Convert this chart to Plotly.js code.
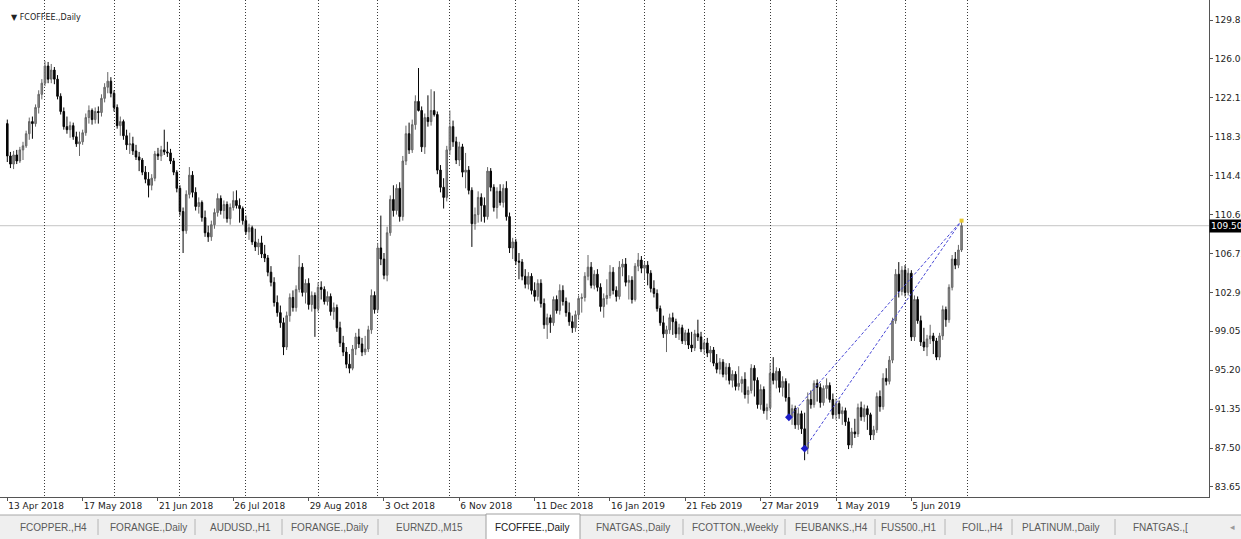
<!DOCTYPE html>
<html><head><meta charset="utf-8">
<script src="https://cdn.plot.ly/plotly-3.0.1.min.js"></script>
<style>html,body{margin:0;padding:0;background:#fff;overflow:hidden}#chart{width:1241px;height:539px}</style>
</head><body><div id="chart"></div>
<script>
// ---------------- data ----------------
const chartTitle = '\u25BC FCOFFEE.,Daily';
const tickLabels = ['13 Apr 2018','17 May 2018','21 Jun 2018','26 Jul 2018','29 Aug 2018','3 Oct 2018','6 Nov 2018','11 Dec 2018','16 Jan 2019','21 Feb 2019','27 Mar 2019','1 May 2019','5 Jun 2019'];
const labelBars = [0,24,48,72,96,120,144,168,192,216,240,264,288];
const separatorBars = [12,34,55,76,99,118,141,162,182,203,222,243,264,286,306];
const priceTicks = [83.65,87.50,91.35,95.20,99.05,102.90,106.75,110.60,114.45,118.30,122.15,126.00,129.85];

const openP = [
119.6,116.4,115.6,116.5,115.9,117.0,117.4,118.6,119.8,119.6,
121.2,122.5,123.6,125.3,124.0,124.9,124.0,122.3,120.8,119.3,
119.0,119.4,118.3,117.6,117.8,118.7,120.2,120.9,120.0,120.8,
120.7,122.1,123.2,123.8,122.6,121.2,119.4,119.8,118.4,117.5,
117.6,116.9,116.3,116.0,114.8,114.1,113.5,114.2,116.6,116.4,
117.0,116.8,116.7,115.9,114.8,113.2,110.9,109.0,112.6,114.5,
112.8,111.4,111.8,110.3,108.8,108.4,109.6,110.8,112.2,111.0,
111.6,110.2,111.3,112.0,111.5,111.2,110.0,108.9,109.3,107.9,
107.4,107.8,106.7,106.3,104.9,103.9,101.9,100.9,99.9,97.5,
100.6,102.4,101.4,103.2,105.4,102.9,103.8,101.7,102.6,101.3,
103.4,103.2,102.0,102.5,101.0,101.4,99.4,97.9,97.0,95.8,
95.4,97.3,98.5,97.8,97.0,97.3,99.2,102.6,101.2,107.3,
106.2,104.6,108.8,112.1,111.0,113.2,110.4,115.9,118.6,117.0,
119.5,121.8,120.9,117.3,120.2,119.8,120.9,120.5,115.0,113.3,
112.3,117.0,119.3,117.8,116.0,117.3,114.8,115.0,113.0,109.7,
110.6,112.3,111.5,110.4,114.9,113.3,111.3,112.9,111.8,113.2,
110.4,107.3,107.9,106.0,105.9,104.5,103.7,104.5,103.1,102.5,
103.8,101.8,99.7,100.4,99.9,102.2,101.1,103.1,102.0,100.9,
100.0,99.4,100.7,102.3,102.4,104.5,105.4,103.6,104.7,103.4,
101.5,102.3,102.6,104.9,103.1,102.5,105.4,105.7,103.9,104.1,
102.2,105.5,106.1,105.3,105.6,104.8,103.3,102.8,101.3,99.9,
98.8,99.2,100.4,100.0,98.8,99.4,98.1,98.9,97.7,97.4,
98.8,98.5,97.3,97.9,96.9,97.2,95.9,95.3,96.0,94.8,
95.5,94.2,94.8,93.6,93.9,94.3,92.8,93.2,95.4,94.2,
91.8,93.3,91.2,91.5,94.9,94.2,95.1,93.5,94.1,92.5,
90.6,91.4,89.8,90.9,89.4,87.5,92.3,91.8,93.9,93.5,
92.0,93.4,93.7,92.3,90.8,91.9,90.9,91.2,90.1,87.8,
89.1,88.9,91.5,90.6,91.4,90.8,88.8,89.3,92.6,91.6,
94.4,94.1,96.2,100.1,104.7,103.0,105.1,102.9,104.8,98.5,
102.2,100.1,98.0,97.5,98.3,98.6,98.1,96.5,98.6,101.2,
100.2,103.4,106.2,105.6,107.1];

const highP = [
120.0,116.8,116.9,117.0,117.3,117.8,118.9,120.2,120.3,121.5,
122.9,124.0,125.8,125.7,125.5,125.2,124.4,122.6,121.2,120.3,
119.8,119.7,118.8,118.8,119.0,120.6,121.4,121.1,121.2,121.3,
122.5,123.6,124.7,124.2,122.9,121.5,120.3,120.0,119.0,118.7,
118.3,117.5,116.8,116.2,115.4,114.8,114.6,116.9,117.2,117.4,
119.0,117.8,117.1,116.2,115.0,113.5,111.3,113.0,115.3,114.9,
113.3,112.3,112.0,111.0,109.5,110.0,111.2,112.7,112.5,112.0,
111.9,111.7,112.9,113.0,112.2,111.4,110.5,109.7,109.5,109.2,
108.2,108.5,107.6,106.6,105.5,104.4,102.6,101.6,100.4,101.0,
102.8,103.1,103.6,106.6,105.8,104.2,104.3,103.0,102.9,103.9,
104.0,103.5,103.0,102.8,101.9,101.7,100.0,98.6,97.5,96.8,
97.7,98.9,99.3,98.4,98.6,99.6,103.2,103.0,107.8,110.5,
106.8,109.4,112.5,113.5,113.6,113.8,116.4,119.4,119.7,120.0,
122.4,125.1,121.3,120.6,122.4,123.0,122.8,120.8,115.5,114.2,
117.4,120.9,119.9,118.3,117.8,117.6,116.7,115.4,113.3,111.3,
112.9,112.7,112.3,115.3,115.2,113.6,113.3,113.6,113.6,113.9,
110.8,108.3,108.2,106.8,106.2,105.2,104.9,104.8,103.9,104.2,
104.2,102.3,100.8,100.7,102.5,102.6,103.7,103.6,102.4,101.9,
100.6,101.1,102.6,102.8,104.9,106.6,105.9,105.1,105.2,103.8,
102.8,104.2,105.6,105.4,103.5,106.0,106.2,106.3,104.6,104.5,
105.8,106.8,106.5,105.9,106.0,105.1,104.1,103.2,101.6,100.6,
99.6,100.8,100.9,100.3,99.8,99.7,99.2,99.3,99.0,99.2,
100.2,99.0,98.2,98.4,97.6,97.5,96.8,96.4,96.3,95.9,
95.9,95.2,95.1,95.6,94.6,95.0,93.6,95.8,95.7,94.5,
93.8,93.6,91.9,95.9,96.5,95.5,95.4,94.6,94.4,93.9,
91.8,91.7,91.5,91.2,91.0,93.0,93.2,94.2,94.3,93.9,
93.7,94.4,94.0,92.9,92.4,92.2,91.6,91.5,90.5,89.5,
90.4,91.9,92.1,91.8,91.7,91.0,89.7,93.0,93.2,94.9,
95.4,96.6,100.4,105.2,105.9,105.5,105.6,105.3,105.1,102.6,
102.5,100.6,99.4,98.7,99.7,98.9,98.4,98.9,101.6,101.5,
103.7,106.6,106.9,107.6,110.0];

const lowP = [
115.8,115.2,115.1,115.6,115.7,116.0,117.2,118.0,118.1,119.3,
120.6,122.0,123.3,123.6,123.6,123.5,122.0,120.5,119.0,118.6,
118.2,118.0,117.3,116.4,117.5,118.4,119.6,119.5,119.6,119.6,
120.3,121.7,122.6,122.2,120.8,119.1,118.4,118.0,117.0,116.6,
116.5,116.0,114.9,114.5,113.7,112.3,113.0,113.9,116.0,115.9,
116.5,116.3,115.6,114.5,112.8,110.5,106.8,108.7,112.2,112.3,
111.0,110.7,109.9,108.4,107.9,108.0,109.2,110.4,110.6,110.2,
109.8,109.6,111.0,111.2,109.8,109.6,108.6,108.1,107.6,107.0,
106.6,106.3,105.9,104.5,103.5,101.5,100.5,99.4,96.7,97.2,
100.0,101.0,101.0,102.9,102.5,101.8,101.2,101.0,98.5,101.0,
102.2,101.7,101.6,100.6,100.2,99.0,97.5,96.6,95.4,94.9,
95.2,96.7,97.4,96.6,96.7,97.0,98.8,100.8,100.9,105.6,
104.2,104.0,108.5,110.4,110.6,109.9,110.0,115.5,116.6,116.7,
119.0,120.8,116.8,116.6,119.3,119.4,120.3,114.6,112.8,111.2,
111.9,116.5,117.3,115.6,115.4,114.3,113.2,112.6,107.4,109.1,
109.8,109.9,109.8,110.1,112.9,110.9,110.2,111.5,111.3,110.0,
106.8,106.2,105.6,104.2,104.1,103.3,103.2,102.7,102.0,102.1,
101.4,99.3,98.3,98.9,99.6,100.8,100.7,101.6,100.5,99.6,
98.9,99.0,100.2,100.9,102.0,104.1,103.3,103.2,103.0,101.0,
100.4,101.7,102.3,102.7,102.0,102.2,104.5,103.5,102.2,101.8,
102.0,105.0,104.8,104.2,103.6,102.9,102.4,101.0,99.6,98.4,
97.0,98.8,98.7,98.4,98.2,97.8,97.7,97.3,97.0,97.1,
98.1,97.0,96.8,96.5,96.0,95.6,94.9,94.8,94.5,94.2,
93.8,93.5,93.2,93.2,93.0,92.4,91.9,92.9,92.6,91.4,
91.3,90.9,90.3,91.2,93.8,93.4,93.0,92.6,92.1,90.3,
89.8,89.4,89.3,88.9,86.3,86.9,91.4,91.5,92.1,91.5,
91.7,92.4,92.0,90.4,90.3,90.4,89.8,89.7,87.4,87.5,
88.5,88.6,90.2,90.1,89.3,88.3,88.3,89.0,91.1,91.3,
93.7,93.8,95.9,99.8,102.4,102.6,102.5,102.6,98.1,98.1,
99.8,97.6,97.1,96.6,97.8,96.8,96.2,96.2,98.2,99.5,
99.9,103.1,105.2,105.3,106.9];

const closeP = [
116.4,115.6,116.5,115.9,117.0,117.4,118.6,119.8,119.6,121.2,
122.5,123.6,125.3,124.0,124.9,124.0,122.3,120.8,119.3,119.0,
119.4,118.3,117.6,117.8,118.7,120.2,120.9,120.0,120.8,120.7,
122.1,123.2,123.8,122.6,121.2,119.4,119.8,118.4,117.5,117.6,
116.9,116.3,116.0,114.8,114.1,113.5,114.2,116.6,116.4,117.0,
116.8,116.7,115.9,114.8,113.2,110.9,109.0,112.6,114.5,112.8,
111.4,111.8,110.3,108.8,108.4,109.6,110.8,112.2,111.0,111.6,
110.2,111.3,112.0,111.5,111.2,110.0,108.9,109.3,107.9,107.4,
107.8,106.7,106.3,104.9,103.9,101.9,100.9,99.9,97.5,100.6,
102.4,101.4,103.2,105.4,102.9,103.8,101.7,102.6,101.3,103.4,
103.2,102.0,102.5,101.0,101.4,99.4,97.9,97.0,95.8,95.4,
97.3,98.5,97.8,97.0,97.3,99.2,102.6,101.2,107.3,106.2,
104.6,108.8,112.1,111.0,113.2,110.4,115.9,118.6,117.0,119.5,
121.8,120.9,117.3,120.2,119.8,120.9,120.5,115.0,113.3,112.3,
117.0,119.3,117.8,116.0,117.3,114.8,115.0,113.0,109.7,110.6,
112.3,111.5,110.4,114.9,113.3,111.3,112.9,111.8,113.2,110.4,
107.3,107.9,106.0,105.9,104.5,103.7,104.5,103.1,102.5,103.8,
101.8,99.7,100.4,99.9,102.2,101.1,103.1,102.0,100.9,100.0,
99.4,100.7,102.3,102.4,104.5,105.4,103.6,104.7,103.4,101.5,
102.3,102.6,104.9,103.1,102.5,105.4,105.7,103.9,104.1,102.2,
105.5,106.1,105.3,105.6,104.8,103.3,102.8,101.3,99.9,98.8,
99.2,100.4,100.0,98.8,99.4,98.1,98.9,97.7,97.4,98.8,
98.5,97.3,97.9,96.9,97.2,95.9,95.3,96.0,94.8,95.5,
94.2,94.8,93.6,93.9,94.3,92.8,93.2,95.4,94.2,91.8,
93.3,91.2,91.5,94.9,94.2,95.1,93.5,94.1,92.5,90.6,
91.4,89.8,90.9,89.4,87.5,92.3,91.8,93.9,93.5,92.0,
93.4,93.7,92.3,90.8,91.9,90.9,91.2,90.1,87.8,89.1,
88.9,91.5,90.6,91.4,90.8,88.8,89.3,92.6,91.6,94.4,
94.1,96.2,100.1,104.7,103.0,105.1,102.9,104.8,98.5,102.2,
100.1,98.0,97.5,98.3,98.6,98.1,96.5,98.6,101.2,100.2,
103.4,106.2,105.6,107.1,109.5];

// drawn trend lines (bar index, price)
const trendStartBars = [249, 254];
const trendStartPrices = [90.55, 87.45];
const trendEndBar = 304;
const trendEndPrice = 110.0;

const tabNames = ['FCOPPER.,H4','FORANGE.,Daily','AUDUSD.,H1','FORANGE.,Daily','EURNZD.,M15','FCOFFEE.,Daily','FNATGAS.,Daily','FCOTTON.,Weekly','FEUBANKS.,H4','FUS500.,H1','FOIL.,H4','PLATINUM.,Daily','FNATGAS.,['];
const activeTabIndex = 5;

// ---------------- layout constants ----------------
const W = 1241, H = 539;
const PL = 0, PR = 1209, PT = 0, PB = 497;
const BAR_X0 = 7.3, BAR_DX = 3.139;           // pixel of bar 0 and bar pitch
const xRange = [(PL - BAR_X0) / BAR_DX, (PR - BAR_X0) / BAR_DX];
const yRange = [82.66, 131.83];
const tabCenters = [53,148,240,329,429,532,633,735,831,908,982,1061,1160];
const tabSeparators = [98,195,282,378,683,785,875,945,1012,1115];
const AXIS_FONT = {family: 'DejaVu Sans', size: 9, color: '#222'};

function pxX(x){ return (x - PL) / (PR - PL); }
function pxY(y){ return (PB - y) / (PB - PT); }

const bars = openP.map((_, i) => i);
const lastClose = closeP[closeP.length - 1];

// ---------------- traces ----------------
const candles = {
  type: 'candlestick', x: bars, open: openP, high: highP, low: lowP, close: closeP,
  xaxis: 'x', yaxis: 'y',
  increasing: {line: {color: '#666666', width: 1}, fillcolor: '#8c8c8c'},
  decreasing: {line: {color: '#050505', width: 1}, fillcolor: '#050505'},
  whiskerwidth: 0, hoverinfo: 'skip', showlegend: false
};

const tx = [], ty = [];
trendStartBars.forEach((b, i) => { tx.push(b, trendEndBar, null); ty.push(trendStartPrices[i], trendEndPrice, null); });
const trendLines = {
  type: 'scatter', mode: 'lines', x: tx, y: ty, xaxis: 'x2', yaxis: 'y',
  line: {color: '#4646d6', width: 1, dash: '3px,2px'}, hoverinfo: 'skip', showlegend: false
};
const trendStarts = {
  type: 'scatter', mode: 'markers', x: trendStartBars, y: trendStartPrices, xaxis: 'x2', yaxis: 'y',
  marker: {symbol: 'diamond', size: 6, color: '#1c1cc8'}, hoverinfo: 'skip', showlegend: false
};
const trendEnd = {
  type: 'scatter', mode: 'markers', x: [trendEndBar], y: [trendEndPrice], xaxis: 'x2', yaxis: 'y',
  marker: {symbol: 'square', size: 4, color: '#e8c830'}, hoverinfo: 'skip', showlegend: false
};

// ---------------- shapes & annotations ----------------
const shapes = [
  {type: 'line', xref: 'paper', yref: 'y', x0: 0, x1: 1, y0: lastClose, y1: lastClose,
   line: {color: '#c4c4c4', width: 1}, layer: 'below'},
  // tab strip
  {type: 'rect', xref: 'paper', yref: 'paper', x0: pxX(0), x1: pxX(W), y0: pxY(515), y1: pxY(H),
   fillcolor: '#efefef', line: {width: 0}, layer: 'above'},
  {type: 'line', xref: 'paper', yref: 'paper', x0: pxX(0), x1: pxX(W), y0: pxY(515), y1: pxY(515),
   line: {color: '#a8a8a8', width: 1}},
  {type: 'rect', xref: 'paper', yref: 'paper', x0: pxX(486), x1: pxX(580), y0: pxY(514), y1: pxY(H + 2),
   fillcolor: '#ffffff', line: {color: '#a0a0a0', width: 1}}
];
tabSeparators.forEach(s => shapes.push({type: 'line', xref: 'paper', yref: 'paper',
  x0: pxX(s), x1: pxX(s), y0: pxY(519), y1: pxY(535), line: {color: '#b4b4b4', width: 1}}));

const annotations = [
  {xref: 'paper', yref: 'paper', x: pxX(9), y: pxY(17), xanchor: 'left', yanchor: 'middle',
   text: chartTitle, showarrow: false, font: {family: 'DejaVu Sans', size: 8, color: '#222'}},
  {xref: 'paper', yref: 'y', x: 1, y: lastClose, xanchor: 'left', yanchor: 'middle',
   text: lastClose.toFixed(2), showarrow: false, bgcolor: '#000', borderpad: 1,
   font: {family: 'DejaVu Sans', size: 9, color: '#fff'}},
  {xref: 'paper', yref: 'paper', x: pxX(1232), y: pxY(527), xanchor: 'center', yanchor: 'middle',
   text: '\u25C2', showarrow: false, font: {family: 'DejaVu Sans', size: 9, color: '#9a9a9a'}}
];
tabNames.forEach((t, i) => annotations.push({xref: 'paper', yref: 'paper', x: pxX(tabCenters[i]), y: pxY(527),
  xanchor: 'center', yanchor: 'middle', text: t, showarrow: false,
  font: {family: 'Liberation Sans', size: 10, color: i === activeTabIndex ? '#1a1a1a' : '#5a5a5a'}}));

// ---------------- layout ----------------
const layout = {
  width: W, height: H,
  margin: {l: PL, r: W - PR, t: PT, b: H - PB, pad: 0, autoexpand: false},
  paper_bgcolor: '#ffffff', plot_bgcolor: '#ffffff',
  font: AXIS_FONT, showlegend: false, dragmode: false,
  xaxis: {
    type: 'linear', range: xRange, rangeslider: {visible: false},
    tickmode: 'array', tickvals: labelBars, ticktext: tickLabels,
    ticklabelposition: 'outside right', ticks: 'outside', ticklen: 3, tickcolor: '#555',
    showgrid: false, zeroline: false, showline: true, linecolor: '#555', linewidth: 1,
    tickfont: AXIS_FONT, fixedrange: true
  },
  xaxis2: {
    type: 'linear', range: xRange, overlaying: 'x', anchor: 'y', side: 'bottom',
    tickmode: 'array', tickvals: separatorBars, showticklabels: false, ticks: '',
    showgrid: true, gridcolor: '#3a3a3a', gridwidth: 1, griddash: '1px,2px',
    zeroline: false, showline: false, fixedrange: true
  },
  yaxis: {
    type: 'linear', range: yRange, side: 'right',
    tickmode: 'array', tickvals: priceTicks, ticktext: priceTicks.map(v => v.toFixed(2)),
    ticks: 'outside', ticklen: 3, tickcolor: '#555',
    showgrid: false, zeroline: false, showline: true, linecolor: '#555', linewidth: 1,
    tickfont: AXIS_FONT, fixedrange: true
  },
  shapes: shapes, annotations: annotations
};

Plotly.newPlot('chart', [candles, trendLines, trendStarts, trendEnd], layout,
  {displayModeBar: false, staticPlot: true, responsive: false});
</script>
</body></html>
